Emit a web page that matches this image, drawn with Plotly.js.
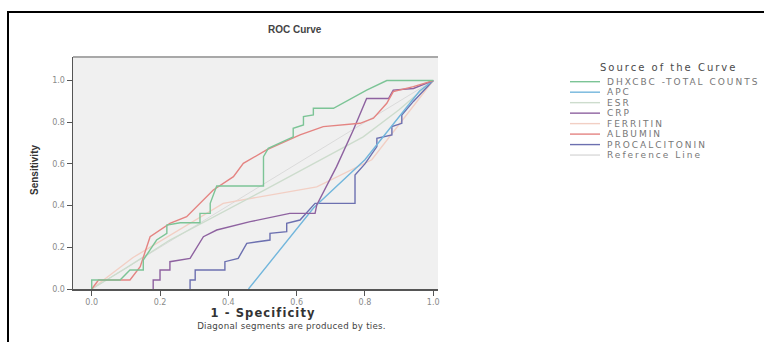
<!DOCTYPE html>
<html><head><meta charset="utf-8">
<script src="https://cdn.plot.ly/plotly-3.0.1.min.js"></script>
<style>body{margin:0;background:#fff}#chart{width:764px;height:342px}</style>
</head><body><div id="chart"></div>
<script>
// ---- data (1 - specificity, sensitivity) ----
const seriesNames = ['DHXCBC -TOTAL COUNTS','APC','ESR','CRP','FERRITIN','ALBUMIN','PROCALCITONIN','Reference Line'];

const dhxcbcX = [0,0,0.083,0.112,0.151,0.151,0.19,0.22,0.22,0.259,0.317,0.317,0.347,0.347,0.366,0.503,0.503,0.517,0.59,0.59,0.62,0.62,0.649,0.649,0.708,0.805,0.864,1];
const dhxcbcY = [0,0.043,0.043,0.091,0.091,0.139,0.235,0.267,0.307,0.318,0.318,0.363,0.363,0.411,0.494,0.494,0.635,0.675,0.73,0.771,0.787,0.827,0.835,0.867,0.867,0.954,1,1];

const apcX = [0.459,0.65,0.8,0.96,1];
const apcY = [0,0.39,0.62,0.95,1];

const esrX = [0,0.1,0.229,0.5,0.795,0.9,1];
const esrY = [0,0.1,0.235,0.47,0.73,0.86,1];

const crpX = [0.18,0.18,0.2,0.2,0.229,0.229,0.288,0.327,0.366,0.464,0.58,0.654,0.659,0.717,0.766,0.805,0.869,0.883,0.942,1];
const crpY = [0,0.043,0.043,0.091,0.091,0.131,0.147,0.251,0.283,0.323,0.363,0.363,0.403,0.587,0.763,0.914,0.914,0.954,0.962,1];

const ferritinX = [0,0.12,0.385,0.659,0.82,1];
const ferritinY = [0,0.15,0.411,0.49,0.62,1];

const albuminX = [0,0.02,0.112,0.142,0.171,0.205,0.229,0.278,0.356,0.415,0.444,0.512,0.61,0.678,0.786,0.825,0.864,0.883,0.942,1];
const albuminY = [0,0.043,0.043,0.107,0.251,0.29,0.315,0.347,0.475,0.539,0.603,0.667,0.739,0.779,0.795,0.819,0.891,0.947,0.971,1];

const procalX = [0.288,0.288,0.303,0.303,0.39,0.39,0.429,0.454,0.522,0.522,0.571,0.571,0.61,0.654,0.771,0.771,0.80,0.835,0.835,0.879,0.879,0.908,0.908,0.942,1];
const procalY = [0,0.043,0.043,0.091,0.091,0.131,0.147,0.219,0.235,0.267,0.275,0.315,0.331,0.411,0.411,0.547,0.6,0.683,0.723,0.739,0.779,0.795,0.835,0.9,1];

const refX = [0,1];
const refY = [0,1];

const tickVals = [0,0.2,0.4,0.6,0.8,1.0];
const tickText = ['0.0','0.2','0.4','0.6','0.8','1.0'];

const colors = ['#7cc496','#72b6dc','#cddccd','#8e62a0','#f2cfc4','#e48482','#6c70b0','#dadada'];
const xs = [dhxcbcX,apcX,esrX,crpX,ferritinX,albuminX,procalX,refX];
const ys = [dhxcbcY,apcY,esrY,crpY,ferritinY,albuminY,procalY,refY];

// ---- geometry helpers (pixel -> paper) ----
const L=73, R=438, T=57, B=289;
const px = x => (x-L)/(R-L);
const py = y => (B-y)/(B-T);

const order = [7,4,2,6,1,3,5,0];
const traces = order.map(i => ({
  type:'scatter', mode:'lines', x:xs[i], y:ys[i], name:seriesNames[i],
  line:{color:colors[i], width: i===7?1:1.4}, showlegend:false, hoverinfo:'skip'
}));

const F = 'Liberation Sans, Arial, sans-serif';
const D = 'DejaVu Sans, sans-serif';
const spacing = [];   // letter spacing per annotation (px), applied after drawing
function ann(text, x, y, font, extra, ls){
  spacing.push(ls||0);
  return Object.assign({text, x:px(x), y:py(y), xref:'paper', yref:'paper', showarrow:false,
    xanchor:'center', yanchor:'middle', font}, extra||{});
}
const annotations = [
  ann('<b>ROC Curve</b>', 295, 29, {family:F,size:10,color:'#444'}),
  ann('<b>Sensitivity</b>', 34, 170, {family:F,size:10,color:'#333'}, {textangle:-90}),
  ann('<b>1 - Specificity</b>', 263, 313, {family:D,size:11.5,color:'#333'}, null, 1.1),
  ann('Diagonal segments are produced by ties.', 291, 326, {family:D,size:8.7,color:'#444'}, null, 0.25),
  ann('Source of the Curve', 668, 67, {family:D,size:10,color:'#4a4a4a'}, null, 2)
];
const shapes = [
  {type:'rect', xref:'paper', yref:'paper', x0:px(8), x1:px(900), y0:py(12), y1:py(500), line:{color:'#000',width:2}, layer:'below'},
  {type:'line', xref:'paper', yref:'paper', x0:0, x1:1, y0:1, y1:1, line:{color:'#a8a8a8',width:2}}
];
seriesNames.forEach((n,i) => {
  const yy = 81.7 + i*10.48;
  const ls = 2;
  shapes.push({type:'line', xref:'paper', yref:'paper', x0:px(570), x1:px(600), y0:py(yy), y1:py(yy), line:{color:colors[i], width:1.4}});
  annotations.push(ann(n, 605 + 0.5*ls*n.length, yy, {family:D,size:9,color:'#777'}, {xanchor:'left'}, ls));
});

const axisCommon = {tickvals:tickVals, ticktext:tickText, ticks:'outside', ticklen:5, tickcolor:'#555', tickwidth:1,
  showgrid:false, zeroline:false, showline:true, linecolor:'#555', linewidth:1.5, tickfont:{family:D,size:8,color:'#8a8a8a'}, fixedrange:true};

const layout = {
  width:764, height:342, margin:{l:L, r:764-R, t:T, b:342-B}, paper_bgcolor:'#fff', plot_bgcolor:'#f0f0f0',
  xaxis:Object.assign({}, axisCommon, {range:[-0.0548,1.014]}),
  yaxis:Object.assign({}, axisCommon, {range:[0,1.113]}),
  showlegend:false, annotations, shapes
};
Plotly.newPlot('chart', traces, layout, {staticPlot:true}).then(() => {
  // the source chart's lettering is widely spaced
  document.querySelectorAll('#chart .annotation').forEach(g => {
    const k = +g.getAttribute('data-index');
    const t = g.querySelector('text');
    if (t && spacing[k]) t.style.letterSpacing = spacing[k] + 'px';
  });
});
</script></body></html>
